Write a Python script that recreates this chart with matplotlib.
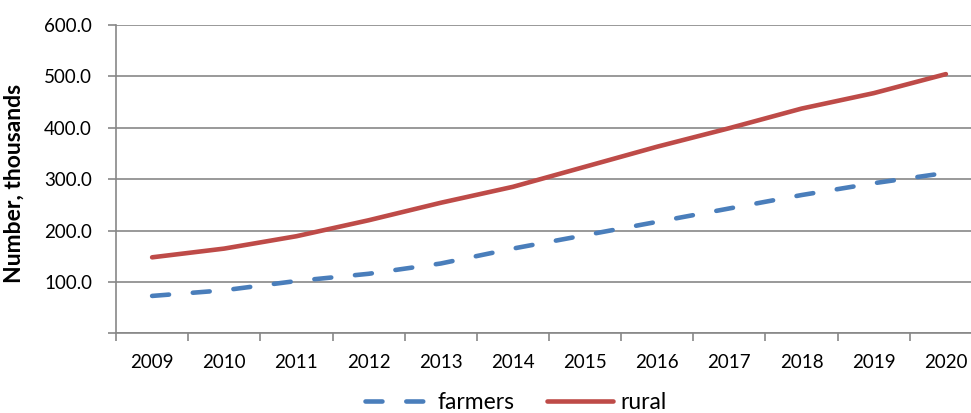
import matplotlib.pyplot as plt
from matplotlib.ticker import FixedLocator, FuncFormatter

# datos (miles)
years = ["2009", "2010", "2011", "2012", "2013", "2014", "2015", "2016", "2017", "2018", "2019", "2020"]
farmers = [73, 84, 102, 116, 136, 165, 191, 217, 243, 269, 292, 312]
rural = [148, 165, 189, 220, 254, 285, 324, 363, 399, 437, 467, 504]

plt.rcParams['font.family'] = ['Lato', 'DejaVu Sans']
grid_col = "#878787"

fig = plt.figure(figsize=(9.71, 4.13), dpi=100)
ax = fig.add_axes([0.1195, 0.1925, 0.8918, 0.7477])

x = list(range(len(years)))
ax.plot(x, farmers, color="#4A7EBB", lw=3.3, dashes=(3.7, 5.2),
        dash_capstyle="round", label="farmers")
ax.plot(x, rural, color="#BE4B48", lw=3.3, solid_capstyle="round", label="rural")

ax.set_xlim(-0.5, 11.5)
ax.set_ylim(0, 600)

# eje y
ax.yaxis.set_major_locator(FixedLocator(range(0, 601, 100)))
ax.yaxis.set_major_formatter(FuncFormatter(lambda v, p: "" if v == 0 else "%.1f" % v))
ax.grid(axis="y", color=grid_col, lw=1.2)
ax.set_axisbelow(True)
ax.tick_params(axis="y", length=5.8, width=1.2, color=grid_col, labelsize=13.5, pad=11.5)
ax.set_ylabel("Number, thousands", fontsize=16.5, fontweight="bold")
ax.yaxis.set_label_coords(-0.105, 0.487)

# eje x: etiquetas al centro, marcas entre categorias
ax.set_xticks(x)
ax.set_xticklabels(years)
ax.set_xticks([i - 0.5 for i in range(len(years) + 1)], minor=True)
ax.tick_params(axis="x", which="major", length=0, labelsize=13.5, pad=15)
ax.tick_params(axis="x", which="minor", length=5.8, width=1.2, color=grid_col)

for s in ["top", "right"]:
    ax.spines[s].set_visible(False)
for s in ["left", "bottom"]:
    ax.spines[s].set_color(grid_col)
    ax.spines[s].set_linewidth(1.2)

leg = fig.legend(loc="center", bbox_to_anchor=(0.531, 0.026), ncol=2, frameon=False,
                 fontsize=16.5, handlelength=2.9, handletextpad=0.3, columnspacing=1.4)

fig.savefig("out.png", dpi=100)
